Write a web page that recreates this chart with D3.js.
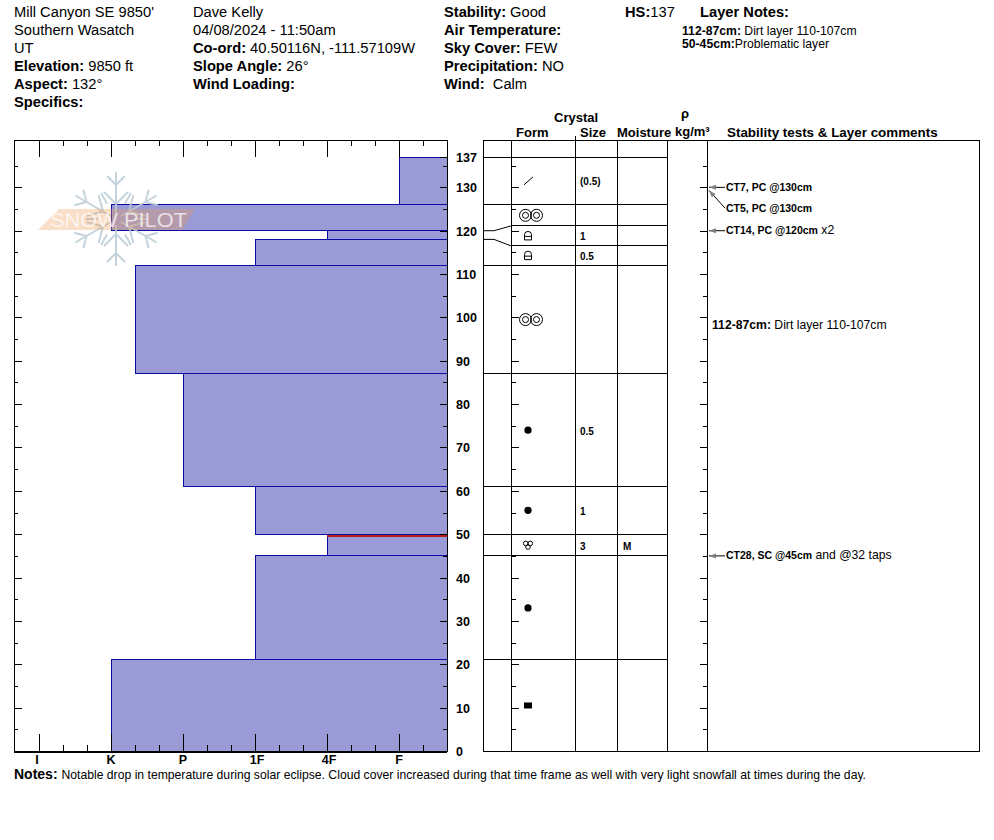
<html lang="en">
<head>
<style>
	body { margin: 0; background: #fff; }
	text { font-family: "Liberation Sans", Arial, sans-serif; fill: #000; white-space: pre; }
	.crisp { shape-rendering: crispEdges; }
	.domain { display: none; }
	.tick line { stroke: #000; shape-rendering: crispEdges; }
</style>
</head>
<body>
<svg width="994" height="840"></svg>
</body>
<script type='text/javascript' src='https://d3js.org/d3.v7.min.js'></script>
<script>
	// site header, [bold part, plain part]
	var col1 = [["", "Mill Canyon SE 9850'"], ["", "Southern Wasatch"], ["", "UT"], ["Elevation: ", "9850 ft"], ["Aspect: ", "132°"], ["Specifics:", ""]];
	var col2 = [["", "Dave Kelly"], ["", "04/08/2024 - 11:50am"], ["Co-ord: ", "40.50116N, -111.57109W"], ["Slope Angle: ", "26°"], ["Wind Loading:", ""]];
	var col3 = [["Stability: ", "Good"], ["Air Temperature:", ""], ["Sky Cover: ", "FEW"], ["Precipitation: ", "NO"], ["Wind: ", " Calm"]];
	var layerNotes = [["112-87cm: ", "Dirt layer 110-107cm"], ["50-45cm:", "Problematic layer"]];

	// snow layers, top to bottom
	var layerTop = [137, 126, 120, 118, 112, 87, 61, 50, 45, 21];
	var layerBottom = [126, 120, 118, 112, 87, 61, 50, 45, 21, 0];
	var layerHardness = [5, 1, 4, 3, 4 / 3, 2, 3, 4, 3, 1];
	// where each layer's row edge lands in the table (spread out where layers are thin)
	var rowTop = [137, 126, 121.1, 116.5, 112, 87, 61, 50, 45, 21];
	var rowBottom = [126, 121.1, 116.5, 112, 87, 61, 50, 45, 21, 0];
	var rowForm = ["slash", "rings", "cup", "cup", "rings", "dot", "dot", "melt", "dot", "square"];
	var rowSize = ["(0.5)", "", "1", "0.5", "", "0.5", "1", "3", "", ""];
	var rowMoisture = ["", "", "", "", "", "", "", "M", "", ""];

	var hardnessLabels = ["I", "K", "P", "1F", "4F", "F"];
	var depthLabels = [0, 10, 20, 30, 40, 50, 60, 70, 80, 90, 100, 110, 120, 130, 137];
	var problemDepth = 50;

	var svg = d3.select("svg");
	var x = d3.scaleLinear().domain([-1 / 3, 17 / 3]).range([15, 447]);
	var y = d3.scaleLinear().domain([0, 137]).range([751, 157]);
	var plotTop = 140, plotBottom = 751, plotLeft = 14, plotRight = 447;
	var tableLeft = 483, formX = 511, sizeX = 575, moistX = 617, rhoX = 667, commentX = 707, tableRight = 979;

	function richText(parent, px, py, size, parts) {
		var t = parent.append("text").attr("x", px).attr("y", py).attr("font-size", size);
		t.append("tspan").attr("font-weight", "bold").text(parts[0]);
		t.append("tspan").text(parts[1]);
		return t;
	}

	[[14, col1], [193, col2], [444, col3]].forEach(function(c) {
		c[1].forEach(function(parts, i) {
			richText(svg, c[0], 17 + i * 18, 14.7, parts);
		});
	});
	richText(svg, 625, 17, 14.7, ["HS:", "137"]);
	richText(svg, 700, 17, 14.7, ["Layer Notes:", ""]);
	layerNotes.forEach(function(parts, i) {
		richText(svg, 682, 35 + i * 13, 12.2, parts);
	});

	// layers
	svg.append("g").selectAll("rect")
	.data(layerTop)
	.enter().append("rect")
	.attr("class", "crisp")
	.attr("x", function(d, i) { return x(layerHardness[i]); })
	.attr("y", function(d) { return y(d); })
	.attr("width", function(d, i) { return plotRight - x(layerHardness[i]); })
	.attr("height", function(d, i) { return y(layerBottom[i]) - y(d); })
	.attr("fill", "#9a9ad6")
	.attr("stroke", "#0c0ca0");

	svg.append("line")
	.attr("class", "crisp")
	.attr("x1", x(4)).attr("x2", plotRight)
	.attr("y1", y(problemDepth) + 1.5).attr("y2", y(problemDepth) + 1.5)
	.attr("stroke", "#b81c1c").attr("stroke-width", 2);

	// logo, see-through over the layers
	var logo = svg.append("g").attr("transform", "translate(116,219)");
	var flake = logo.append("g").attr("stroke", "#bccdd6").attr("stroke-width", 2).attr("fill", "none").attr("opacity", 0.85);
	d3.range(6).forEach(function(k) {
		var arm = flake.append("g").attr("transform", "rotate(" + (k * 60) + ")");
		arm.append("path").attr("d", "M0,-6L0,-47M-9,-43L0,-34L9,-43M-12,-27L0,-15L12,-27");
		arm.append("path").attr("transform", "rotate(30)").attr("d", "M0,-18L0,-30");
	});
	logo.append("path")
	.attr("d", "M-78,11L-57,-10L79,-10L66,11Z")
	.attr("fill", "#ee9a58").attr("opacity", 0.33);
	logo.append("text")
	.attr("x", -66).attr("y", 8)
	.attr("font-size", 20)
	.attr("textLength", 137)
	.attr("lengthAdjust", "spacingAndGlyphs")
	.style("fill", "#fff")
	.attr("opacity", 0.7)
	.text("SNOW PILOT");

	// plot frame and ticks
	svg.append("rect").attr("class", "crisp")
	.attr("x", plotLeft).attr("y", plotTop)
	.attr("width", plotRight - plotLeft).attr("height", plotBottom - plotTop)
	.attr("fill", "none").attr("stroke", "#000");
	svg.append("line").attr("class", "crisp")
	.attr("x1", plotLeft).attr("x2", plotRight).attr("y1", plotBottom + 0.5).attr("y2", plotBottom + 0.5)
	.attr("stroke", "#000").attr("stroke-width", 2);

	var every5 = d3.range(5, 140, 5);
	var major10 = every5.filter(function(d) { return d % 10 == 0; });
	var minor5 = every5.filter(function(d) { return d % 10 != 0; });
	var hardMajor = d3.range(0, 6);
	var hardMinor = d3.range(0, 17).map(function(d) { return d / 3; }).filter(function(d, i) { return i % 3 != 0; });

	function ticks(axis, px, py, values, size) {
		svg.append("g")
		.attr("transform", "translate(" + px + "," + py + ")")
		.call(axis.tickValues(values).tickSize(size).tickFormat(""));
	}
	ticks(d3.axisRight(y), plotLeft, 0, major10, 8);
	ticks(d3.axisRight(y), plotLeft, 0, minor5, 4);
	ticks(d3.axisLeft(y), plotRight, 0, major10.concat([137]), 7);
	ticks(d3.axisLeft(y), plotRight, 0, minor5, 4);
	ticks(d3.axisBottom(x), 0, plotTop, hardMajor, 17);
	ticks(d3.axisBottom(x), 0, plotTop, hardMinor, 6);
	ticks(d3.axisTop(x), 0, plotBottom, hardMajor, 17);
	ticks(d3.axisTop(x), 0, plotBottom, hardMinor, 6);
	ticks(d3.axisRight(y), formX, 0, major10, 8);
	ticks(d3.axisRight(y), formX, 0, minor5, 5);
	ticks(d3.axisLeft(y), commentX, 0, major10, 7);
	ticks(d3.axisLeft(y), commentX, 0, minor5, 4);

	// axis labels
	svg.append("g").selectAll("text")
	.data(depthLabels)
	.enter().append("text")
	.attr("x", 456)
	.attr("y", function(d) { return y(d) + 5; })
	.attr("font-size", 12.5).attr("font-weight", "bold")
	.text(function(d) { return d; });
	svg.append("g").selectAll("text")
	.data(hardnessLabels)
	.enter().append("text")
	.attr("x", function(d, i) { return x(i) + (d.length > 1 ? 2 : 0) - (d == "I" ? 2 : 0); })
	.attr("y", 763.5)
	.attr("text-anchor", "middle")
	.attr("font-size", 12.5).attr("font-weight", "bold")
	.text(function(d) { return d; });

	// table
	var tableRules = svg.append("g").attr("stroke", "#000").attr("fill", "none");
	tableRules.append("rect").attr("class", "crisp")
	.attr("x", tableLeft).attr("y", plotTop)
	.attr("width", tableRight - tableLeft).attr("height", plotBottom - plotTop);
	[formX, sizeX, moistX, rhoX, commentX].forEach(function(d) {
		tableRules.append("line").attr("class", "crisp").attr("x1", d).attr("x2", d).attr("y1", plotTop).attr("y2", plotBottom);
	});
	tableRules.append("line").attr("class", "crisp").attr("x1", sizeX).attr("x2", sizeX).attr("y1", 136).attr("y2", plotTop);

	var rowEdges = rowTop.map(function(d, i) { return { layer: layerTop[i], row: d }; });
	rowEdges.forEach(function(d) {
		tableRules.append("line").attr("class", "crisp")
		.attr("x1", formX).attr("x2", rhoX).attr("y1", y(d.row)).attr("y2", y(d.row));
		var path = d3.line()([[tableLeft, y(d.layer)], [tableLeft + 11, y(d.layer)], [formX, y(d.row)]]);
		tableRules.append("path").attr("d", path).attr("shape-rendering", d.layer == d.row ? "crispEdges" : "auto");
	});

	function rowMid(i) { return (y(rowTop[i]) + y(rowBottom[i])) / 2; }

	function drawForm(kind, g) {
		if (kind == "slash") {
			g.append("path").attr("d", "M-4,4L5,-4").attr("stroke", "#000").attr("fill", "none");
		} else if (kind == "rings") {
			[-5.5, 5.5].forEach(function(dx) {
				g.append("circle").attr("cx", dx + 3).attr("r", 6).attr("fill", "none").attr("stroke", "#000");
				g.append("circle").attr("cx", dx + 3).attr("r", 3).attr("fill", "none").attr("stroke", "#000");
			});
		} else if (kind == "cup") {
			g.append("path").attr("d", "M-3.5,4V-1A3.5,3.5 0 0 1 3.5,-1V4ZM-3.5,0.5H3.5").attr("fill", "none").attr("stroke", "#000");
		} else if (kind == "dot") {
			g.append("circle").attr("r", 3.6).attr("fill", "#000");
		} else if (kind == "square") {
			g.append("rect").attr("x", -4).attr("y", -3).attr("width", 8).attr("height", 6).attr("fill", "#000");
		} else if (kind == "melt") {
			[[-2.3, -1.6], [2.3, -1.6], [0, 2]].forEach(function(c) {
				g.append("circle").attr("cx", c[0]).attr("cy", c[1]).attr("r", 2.3).attr("fill", "none").attr("stroke", "#000");
			});
		}
	}
	rowForm.forEach(function(kind, i) {
		drawForm(kind, svg.append("g").attr("transform", "translate(528," + rowMid(i) + ")"));
	});
	rowSize.forEach(function(d, i) {
		svg.append("text").attr("x", 580).attr("y", rowMid(i) + 4.5).attr("font-size", 10).attr("font-weight", "bold").text(d);
	});
	rowMoisture.forEach(function(d, i) {
		svg.append("text").attr("x", 623).attr("y", rowMid(i) + 4.5).attr("font-size", 10).attr("font-weight", "bold").text(d);
	});

	// column headings
	var headings = [["Crystal", 554, 122, 13], ["Form", 516, 137, 13], ["Size", 580, 137, 13], ["Moisture", 617, 137, 13], ["kg/m³", 675, 136, 13], ["Stability tests & Layer comments", 727, 137, 13.4]];
	headings.forEach(function(d) {
		svg.append("text").attr("x", d[1]).attr("y", d[2]).attr("font-size", d[3]).attr("font-weight", "bold").text(d[0]);
	});
	svg.append("text").attr("x", 681).attr("y", 118).attr("font-size", 13).attr("font-weight", "bold").text("ρ");

	// stability tests
	var testDepths = [130, 125.2, 120, 45];
	var testTargets = [130, 129.3, 120, 45];
	var testLabels = ["CT7, PC @130cm", "CT5, PC @130cm", "CT14, PC @120cm", "CT28, SC @45cm"];
	var testExtra = ["", "", " x2", " and @32 taps"];
	testDepths.forEach(function(d, i) {
		var ty = y(testTargets[i]), ly = y(d);
		var a = Math.atan2(ly - ty, 725 - 709) * 180 / Math.PI;
		svg.append("path").attr("d", d3.line()([[725, ly], [709, ty]])).attr("stroke", "#000").attr("fill", "none");
		svg.append("path")
		.attr("transform", "translate(709," + ty + ") rotate(" + a + ")")
		.attr("d", "M0,0L7,-2.5L7,2.5Z").attr("fill", "#808080");
		var t = svg.append("text").attr("x", 726).attr("y", ly + 3.5);
		t.append("tspan").attr("font-size", 10.5).attr("font-weight", "bold").text(testLabels[i]);
		t.append("tspan").attr("font-size", 12.2).text(testExtra[i]);
	});
	richText(svg, 712, 329, 12.2, ["112-87cm: ", "Dirt layer 110-107cm"]);

	// notes
	var t = svg.append("text").attr("x", 14).attr("y", 779);
	t.append("tspan").attr("font-size", 14).attr("font-weight", "bold").text("Notes: ");
	t.append("tspan").attr("font-size", 12.2).text("Notable drop in temperature during solar eclipse. Cloud cover increased during that time frame as well with very light snowfall at times during the day.");
</script>
</html>
